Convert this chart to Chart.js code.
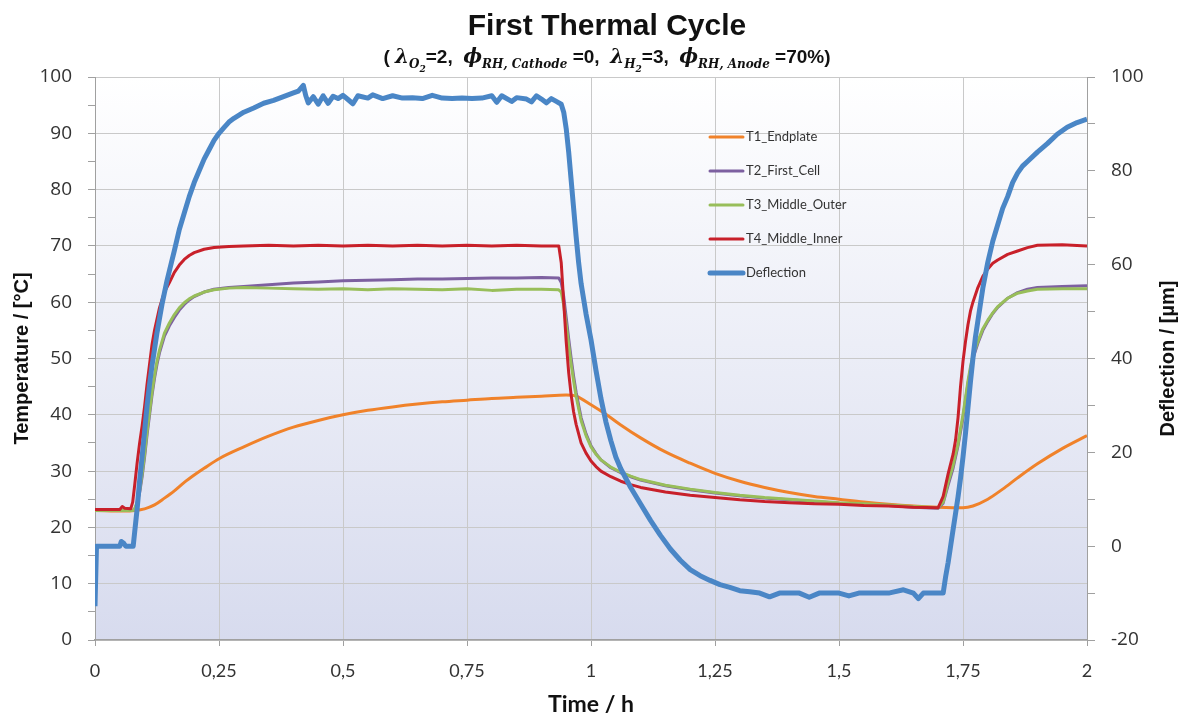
<!DOCTYPE html>
<html>
<head>
<meta charset="utf-8">
<title>First Thermal Cycle</title>
<script src="https://cdn.jsdelivr.net/npm/chart.js@4.4.1/dist/chart.umd.min.js"></script>
<style>
  html, body { margin: 0; padding: 0; background: #fff; }
  canvas { display: block; }
</style>
</head>
<body>
<canvas id="cycle" width="1189" height="720"></canvas>
<script>
// Time grid (h) for the end plate sensor
const endplateHours = [0, 0.06, 0.08, 0.1, 0.12, 0.14, 0.16, 0.18, 0.2, 0.22,
  0.25, 0.3, 0.35, 0.4, 0.45, 0.5, 0.55, 0.6, 0.65, 0.7,
  0.75, 0.8, 0.85, 0.9, 0.95, 0.97, 1.0, 1.03, 1.06, 1.1,
  1.15, 1.2, 1.25, 1.3, 1.35, 1.4, 1.45, 1.5, 1.55, 1.6,
  1.65, 1.7, 1.75, 1.77, 1.8, 1.83, 1.86, 1.9, 1.95, 2.0];
const endplateTemp = [23, 22.9, 23, 23.3, 24, 25.2, 26.5, 28, 29.3, 30.5,
  32.2, 34.3, 36.2, 37.8, 39, 40, 40.8, 41.4, 41.9, 42.3,
  42.6, 42.9, 43.1, 43.3, 43.5, 43.3, 41.8, 40.1, 38.2, 35.9,
  33.4, 31.4, 29.6, 28.2, 27.1, 26.2, 25.5, 25, 24.5, 24.1,
  23.8, 23.6, 23.5, 23.8, 25, 26.8, 28.8, 31.3, 34, 36.3];

// Time grid (h) shared by the three cell sensors
const cellHours = [0, 0.05, 0.055, 0.06, 0.072, 0.076, 0.08, 0.085, 0.09, 0.095,
  0.1, 0.105, 0.11, 0.115, 0.12, 0.125, 0.13, 0.14, 0.15, 0.16,
  0.17, 0.18, 0.19, 0.2, 0.22, 0.24, 0.27, 0.3, 0.35, 0.4,
  0.45, 0.5, 0.55, 0.6, 0.65, 0.7, 0.75, 0.8, 0.85, 0.9,
  0.935, 0.94, 0.945, 0.95, 0.955, 0.96, 0.965, 0.97, 0.98, 0.99,
  1.0, 1.01, 1.02, 1.04, 1.06, 1.08, 1.1, 1.15, 1.2, 1.25,
  1.3, 1.35, 1.4, 1.45, 1.5, 1.55, 1.6, 1.65, 1.7, 1.71,
  1.72, 1.73, 1.735, 1.74, 1.745, 1.75, 1.755, 1.76, 1.765, 1.77,
  1.78, 1.79, 1.8, 1.81, 1.82, 1.84, 1.86, 1.88, 1.9, 1.95,
  2.0];
const firstCellTemp = [23, 23, 23, 23, 23, 23, 23.2, 24.3, 26.2, 29,
  32.5, 36.5, 40, 43.5, 46.5, 49, 51, 54, 55.8, 57.3,
  58.6, 59.6, 60.4, 61, 61.8, 62.3, 62.6, 62.8, 63.1, 63.4,
  63.6, 63.8, 63.9, 64, 64.1, 64.1, 64.2, 64.3, 64.3, 64.4,
  64.3, 63.5, 61, 57.3, 53.5, 50, 46.8, 44, 39.5, 36.6,
  34.5, 33.1, 32, 30.6, 29.7, 29, 28.4, 27.4, 26.7, 26.1,
  25.6, 25.2, 24.9, 24.6, 24.3, 24.1, 23.9, 23.6, 23.4, 24.3,
  27.5, 30.5, 32.5, 34.5, 37, 39.5, 42.5, 45.5, 48, 50,
  52.7, 55, 56.6, 58, 59.1, 60.7, 61.7, 62.3, 62.6, 62.8,
  62.9];
const middleOuterTemp = [23, 23, 23, 23, 23, 23, 23.3, 24.5, 26.5, 29.5,
  33, 37, 40.5, 44, 47, 49.5, 51.5, 54.5, 56.3, 57.8,
  59, 59.9, 60.6, 61.1, 61.8, 62.2, 62.5, 62.6, 62.5, 62.4,
  62.3, 62.4, 62.2, 62.4, 62.3, 62.2, 62.4, 62.1, 62.3, 62.3,
  62.2, 61.8, 59.5, 56, 52.5, 49, 46, 43.3, 39, 36.3,
  34.3, 33, 32, 30.7, 29.8, 29.1, 28.5, 27.5, 26.8, 26.2,
  25.7, 25.3, 25, 24.7, 24.4, 24.2, 24, 23.7, 23.5, 24.5,
  28, 31, 33, 34.8, 37.5, 40, 43, 46, 48.5, 50.5,
  53, 55.3, 56.8, 58.1, 59.2, 60.7, 61.6, 62, 62.3, 62.4,
  62.4];
const middleInnerTemp = [23.2, 23.2, 23.7, 23.4, 23.3, 24.5, 27.5, 31.5, 35, 38,
  41.5, 45.5, 49, 52.5, 55, 57, 59, 61.8, 63.5, 65.3,
  66.6, 67.6, 68.3, 68.8, 69.4, 69.7, 69.9, 70, 70.1, 70,
  70.1, 70, 70.1, 70, 70.1, 70, 70.1, 70, 70.1, 70,
  70, 67, 60, 53, 47.5, 43.5, 40.5, 38.3, 35, 33.2,
  31.8, 30.8, 30, 29, 28.2, 27.6, 27.1, 26.3, 25.7, 25.3,
  24.9, 24.6, 24.4, 24.2, 24.1, 23.9, 23.8, 23.6, 23.5, 25.5,
  29.5, 33, 35.5, 39.5, 45, 49.5, 53, 56, 58.4, 60,
  62.6, 64.6, 65.9, 66.9, 67.5, 68.5, 69.1, 69.7, 70.1, 70.2,
  70];

// Stack deflection (µm) on its own time grid
const deflHours = [0, 0.003, 0.05, 0.053, 0.058, 0.062, 0.077, 0.08, 0.085, 0.09,
  0.095, 0.1, 0.105, 0.11, 0.115, 0.12, 0.125, 0.13, 0.135, 0.14,
  0.145, 0.15, 0.16, 0.17, 0.18, 0.19, 0.2, 0.21, 0.22, 0.23,
  0.24, 0.25, 0.26, 0.27, 0.28, 0.3, 0.32, 0.34, 0.36, 0.38,
  0.4, 0.41, 0.42, 0.425, 0.43, 0.44, 0.45, 0.46, 0.47, 0.48,
  0.49, 0.5, 0.51, 0.52, 0.53, 0.55, 0.56, 0.58, 0.6, 0.62,
  0.64, 0.66, 0.68, 0.7, 0.72, 0.74, 0.76, 0.78, 0.8, 0.81,
  0.82, 0.84, 0.85, 0.87, 0.88, 0.89, 0.9, 0.91, 0.92, 0.93,
  0.94, 0.945, 0.95, 0.955, 0.96, 0.965, 0.97, 0.975, 0.98, 0.99,
  1.0, 1.01, 1.02, 1.03, 1.04, 1.05, 1.06, 1.08, 1.1, 1.12,
  1.14, 1.16, 1.18, 1.2, 1.22, 1.24, 1.26, 1.28, 1.3, 1.32,
  1.34, 1.36, 1.38, 1.42, 1.44, 1.46, 1.5, 1.52, 1.54, 1.6,
  1.63, 1.65, 1.66, 1.67, 1.71, 1.715, 1.72, 1.725, 1.73, 1.735,
  1.74, 1.745, 1.75, 1.755, 1.76, 1.765, 1.77, 1.775, 1.78, 1.79,
  1.8, 1.81, 1.82, 1.83, 1.84, 1.85, 1.86, 1.87, 1.88, 1.9,
  1.92, 1.94, 1.96, 1.98, 2.0];
const deflection = [-12.8, 0, 0, 1, 0.6, 0, 0, 3, 8, 14,
  19, 24.5, 30, 34.5, 38.5, 42, 45.5, 48.5, 51.5, 54,
  56.5, 58.7, 63, 67.5, 71, 74.5, 77.5, 80, 82.5, 84.5,
  86.5, 88, 89.2, 90.4, 91.2, 92.5, 93.4, 94.4, 95, 95.8,
  96.6, 97, 98.2, 96, 94.5, 95.8, 94.2, 96, 94.4, 95.9,
  95.4, 96.1, 95.2, 94.3, 96, 95.5, 96.2, 95.4, 96, 95.5,
  95.6, 95.4, 96.1, 95.5, 95.4, 95.5, 95.4, 95.5, 96, 94.6,
  96, 94.8, 95.6, 95.3, 94.7, 96, 95.3, 94.5, 95.4, 94.8,
  94.2, 92.5, 89, 84, 78, 72, 66, 60.5, 56, 49.5,
  44, 37.5, 31.5, 26.5, 22.5, 19, 16.5, 12.5, 9, 5.5,
  2.3, -0.6, -3, -5, -6.3, -7.3, -8.2, -8.8, -9.5, -9.7,
  -10, -10.8, -10, -10, -10.9, -10, -10, -10.6, -10, -10,
  -9.3, -10, -11.2, -10, -10, -6.5, -3.5, 0, 3.5, 7,
  10.5, 14.5, 19, 24, 29.5, 35, 40, 44.5, 48, 55,
  60.5, 65, 68.5, 72, 74.5, 77.5, 79.5, 81, 82, 84,
  85.8, 87.8, 89.3, 90.3, 91];

const seriesLabels = ['T1_Endplate', 'T2_First_Cell', 'T3_Middle_Outer', 'T4_Middle_Inner', 'Deflection'];

const titleText = 'First Thermal Cycle';
const rightAxisTitle = 'Deflection / [µm]';
// operating point line under the title, split where the math font changes
const subtitleParts = [
  ['( ', 'text'], ['λ', 'sym'], ['O', 'sub'], ['2', 'subsub'], ['=2,  ', 'text'],
  ['ϕ', 'sym'], ['RH, Cathode', 'sub'], [' =0,  ', 'text'],
  ['λ', 'sym'], ['H', 'sub'], ['2', 'subsub'], ['=3,  ', 'text'],
  ['ϕ', 'sym'], ['RH, Anode', 'sub'], [' =70%)', 'text']
];

const partStyle = {
  text:   { font: 'bold 19px "Liberation Sans", Arial, sans-serif', dy: 0 },
  sym:    { font: 'bold italic 20px "DejaVu Serif", serif', dy: 0 },
  sub:    { font: 'bold italic 12px "DejaVu Serif", serif', dy: 5 },
  subsub: { font: 'bold italic 9px "DejaVu Serif", serif', dy: 9 }
};

function points(xs, ys) {
  return xs.map((x, i) => ({ x, y: ys[i] }));
}

const axisGray = '#a0a0a0';
const gridGray = '#c9c9c9';
const titleFont = 'bold 20px "Liberation Sans", Arial, sans-serif';

// plot area fades from white to a pale blue-grey
const plotBackground = {
  id: 'plotBackground',
  beforeDraw(chart) {
    const { ctx, chartArea: a } = chart;
    const g = ctx.createLinearGradient(0, a.top, 0, a.bottom);
    g.addColorStop(0, '#ffffff');
    g.addColorStop(1, '#d7dbee');
    ctx.save();
    ctx.fillStyle = g;
    ctx.fillRect(a.left, a.top, a.right - a.left, a.bottom - a.top);
    ctx.restore();
  }
};

// legend sits inside the plot, right of centre
const insideLegend = {
  id: 'insideLegend',
  afterDatasetsDraw(chart) {
    const { ctx, chartArea: a } = chart;
    const x0 = a.left + 615;
    const y0 = a.top + 60;
    ctx.save();
    chart.data.datasets.forEach((ds, i) => {
      const y = y0 + i * 34;
      ctx.strokeStyle = ds.borderColor;
      ctx.lineWidth = ds.borderWidth;
      ctx.lineCap = 'round';
      ctx.beginPath();
      ctx.moveTo(x0, y);
      ctx.lineTo(x0 + 33, y);
      ctx.stroke();
      ctx.fillStyle = '#333';
      ctx.font = '13px Lato, sans-serif';
      ctx.textBaseline = 'middle';
      ctx.textAlign = 'left';
      ctx.fillText(ds.label, x0 + 36, y);
    });
    ctx.restore();
  }
};

// title, formula line and the right axis caption (read bottom to top)
const headings = {
  id: 'headings',
  afterDraw(chart) {
    const { ctx, chartArea: a } = chart;
    const cx = 607;
    ctx.save();
    ctx.fillStyle = '#111';
    ctx.textBaseline = 'alphabetic';
    ctx.textAlign = 'center';
    ctx.font = 'bold 30px "Liberation Sans", Arial, sans-serif';
    ctx.fillText(titleText, cx, 35);

    ctx.textAlign = 'left';
    let total = 0;
    subtitleParts.forEach(([t, k]) => {
      ctx.font = partStyle[k].font;
      total += ctx.measureText(t).width;
    });
    let x = cx - total / 2;
    subtitleParts.forEach(([t, k]) => {
      ctx.font = partStyle[k].font;
      ctx.fillText(t, x, 63 + partStyle[k].dy);
      x += ctx.measureText(t).width;
    });

    ctx.translate(1168, (a.top + a.bottom) / 2);
    ctx.rotate(-Math.PI / 2);
    ctx.textAlign = 'center';
    ctx.textBaseline = 'middle';
    ctx.font = titleFont;
    ctx.fillText(rightAxisTitle, 0, 0);
    ctx.restore();
  }
};

const colors = ['#f0822a', '#7d60a0', '#98be5a', '#c8202a', '#4a86c6'];

const datasets = [
  { data: points(endplateHours, endplateTemp), yAxisID: 'y', borderWidth: 3, order: 4, cubicInterpolationMode: 'monotone' },
  { data: points(cellHours, firstCellTemp), yAxisID: 'y', borderWidth: 3, order: 3 },
  { data: points(cellHours, middleOuterTemp), yAxisID: 'y', borderWidth: 3, order: 2 },
  { data: points(cellHours, middleInnerTemp), yAxisID: 'y', borderWidth: 3, order: 1 },
  { data: points(deflHours, deflection), yAxisID: 'y2', borderWidth: 5, order: 0 }
].map((ds, i) => Object.assign(ds, {
  label: seriesLabels[i],
  borderColor: colors[i],
  backgroundColor: colors[i],
  pointRadius: 0,
  fill: false,
  borderJoinStyle: 'round'
}));

const tickFont = { family: '"Open Sans", sans-serif', size: 19 };

new Chart(document.getElementById('cycle'), {
  type: 'line',
  data: { datasets },
  plugins: [plotBackground, insideLegend, headings],
  options: {
    responsive: false,
    animation: false,
    devicePixelRatio: 1,
    layout: { padding: { top: 77, left: 0, right: 0, bottom: 0 } },
    plugins: {
      legend: { display: false },
      tooltip: { enabled: false },
      title: { display: false }
    },
    scales: {
      x: {
        type: 'linear',
        min: 0,
        max: 2,
        afterFit(s) { s.height = 80; },
        ticks: {
          stepSize: 0.25,
          padding: 14,
          color: '#333',
          font: { family: 'Lato, sans-serif', size: 18 },
          callback: v => String(Number(v.toFixed(2))).replace('.', ',')
        },
        grid: { color: gridGray, tickColor: axisGray, tickLength: 6 },
        border: { color: axisGray, width: 1.5 },
        title: {
          display: true,
          text: 'Time / h',
          color: '#111',
          font: { family: 'Lato, sans-serif', size: 23, weight: 'bold' },
          padding: { top: 0, bottom: 2 }
        }
      },
      y: {
        position: 'left',
        min: 0,
        max: 100,
        afterFit(s) { s.width = 95; },
        ticks: {
          stepSize: 5,
          autoSkip: false,
          padding: 16,
          color: '#333',
          font: tickFont,
          callback: v => (v % 10 === 0 ? v : '')
        },
        grid: {
          color: c => (c.tick && c.tick.value % 10 === 0 ? gridGray : 'rgba(0,0,0,0)'),
          tickColor: axisGray,
          tickLength: 7
        },
        border: { color: axisGray },
        title: {
          display: true,
          text: 'Temperature / [°C]',
          color: '#111',
          font: { family: '"Liberation Sans", Arial, sans-serif', size: 20, weight: 'bold' },
          padding: { top: 10, bottom: 0 }
        }
      },
      y2: {
        position: 'right',
        min: -20,
        max: 100,
        afterFit(s) { s.width = 102; },
        ticks: {
          stepSize: 10,
          autoSkip: false,
          padding: 16,
          color: '#333',
          font: tickFont,
          callback: v => (v % 20 === 0 ? v : '')
        },
        grid: { drawOnChartArea: false, tickColor: axisGray, tickLength: 8 },
        border: { color: axisGray }
      }
    }
  }
});
</script>
</body>
</html>
